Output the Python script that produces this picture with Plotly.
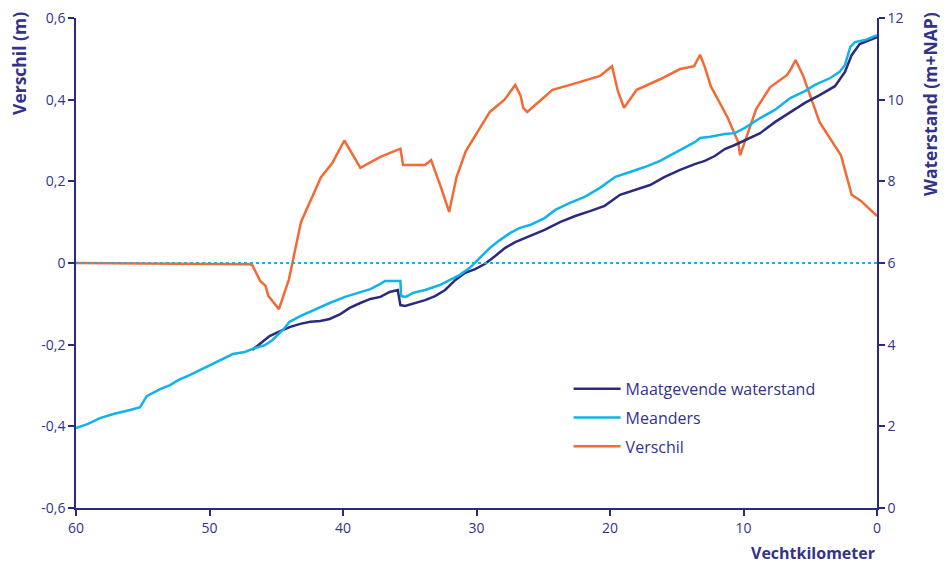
import plotly.graph_objects as go

# Verschil (m), left axis
km_verschil = [60, 47.0, 46.8, 46.2, 45.8, 45.6, 44.8, 44.05, 43.15, 41.65, 40.8, 39.9, 38.7, 37.2, 35.7, 35.5,
               33.85, 33.4, 32.65, 32.05, 31.5, 30.8, 29.0, 27.9, 27.1, 26.7, 26.5, 26.2, 25.5, 24.3, 22.6,
               20.75, 19.85, 19.4, 18.95, 18.0, 16.25, 14.75, 13.7, 13.25, 12.9, 12.45, 11.2, 10.4, 10.25,
               9.05, 8.0, 6.75, 6.45, 6.1, 5.55, 4.3, 2.7, 1.9, 1.2, 0]
verschil = [0, -0.003, -0.005, -0.044, -0.056, -0.08, -0.113, -0.04, 0.10, 0.21, 0.245, 0.30, 0.233, 0.26,
            0.28, 0.24, 0.24, 0.252, 0.184, 0.125, 0.21, 0.274, 0.37, 0.40, 0.436, 0.41, 0.38, 0.37, 0.39,
            0.424, 0.44, 0.458, 0.482, 0.42, 0.38, 0.424, 0.45, 0.475, 0.482, 0.51, 0.48, 0.433, 0.357,
            0.296, 0.264, 0.377, 0.431, 0.46, 0.475, 0.497, 0.46, 0.345, 0.264, 0.167, 0.152, 0.115]

# Meanders (m+NAP), right axis
km_meanders = [60, 59.1, 58.2, 57.2, 55.95, 55.2, 54.7, 53.7, 52.95, 52.35, 51.45, 50.7, 49.95, 49.2, 48.25,
               47.35, 46.6, 45.85, 45.3, 44.5, 44.0, 43.2, 42.1, 41.0, 39.85, 38.7, 37.95, 37.2, 36.85,
               35.95, 35.7, 35.65, 35.3, 34.75, 33.85, 32.75, 32.0, 31.25, 30.5, 29.75, 29.0, 28.25, 27.5,
               26.75, 26.0, 24.9, 24.1, 23.0, 21.9, 20.75, 19.6, 18.5, 17.4, 16.25, 15.15, 14.4, 13.65,
               13.25, 12.5, 11.4, 10.65, 9.9, 8.75, 7.65, 6.5, 5.4, 4.65, 3.5, 2.8, 2.4, 2.0, 1.65, 0.9, 0]
meanders = [1.96, 2.06, 2.2, 2.3, 2.4, 2.47, 2.74, 2.91, 3.01, 3.13, 3.26, 3.38, 3.48, 3.62, 3.77, 3.82,
            3.92, 3.99, 4.11, 4.36, 4.56, 4.70, 4.87, 5.02, 5.17, 5.29, 5.36, 5.49, 5.56, 5.56, 5.56, 5.19,
            5.17, 5.27, 5.34, 5.46, 5.58, 5.71, 5.88, 6.12, 6.37, 6.56, 6.73, 6.86, 6.93, 7.10, 7.30, 7.47,
            7.62, 7.84, 8.11, 8.23, 8.35, 8.50, 8.69, 8.82, 8.96, 9.06, 9.09, 9.16, 9.18, 9.31, 9.55, 9.75,
            10.04, 10.21, 10.36, 10.53, 10.68, 10.85, 11.29, 11.41, 11.46, 11.58]

# Maatgevende waterstand (m+NAP), right axis
km_mhw = [46.8, 46.4, 45.85, 45.5, 44.7, 44.0, 43.2, 42.45, 41.7, 41.0, 40.2, 39.5, 38.7, 37.95, 37.2, 36.5,
          35.9, 35.7, 35.35, 34.6, 33.85, 33.1, 32.35, 31.6, 30.85, 30.1, 29.35, 28.6, 27.85, 27.1, 26.0,
          24.9, 23.75, 22.6, 21.5, 20.4, 19.25, 18.1, 17.0, 15.9, 14.75, 13.65, 12.9, 12.15, 11.4, 10.65,
          9.9, 8.75, 7.65, 6.5, 5.4, 4.3, 3.15, 2.4, 1.9, 1.3, 0.55, 0]
mhw = [3.87, 3.97, 4.11, 4.21, 4.33, 4.43, 4.51, 4.56, 4.58, 4.63, 4.75, 4.90, 5.02, 5.12, 5.17, 5.29, 5.34,
       4.97, 4.95, 5.02, 5.09, 5.19, 5.34, 5.58, 5.76, 5.85, 5.98, 6.17, 6.37, 6.51, 6.66, 6.81, 7.00, 7.15,
       7.27, 7.40, 7.67, 7.79, 7.91, 8.11, 8.28, 8.42, 8.50, 8.62, 8.79, 8.89, 9.01, 9.18, 9.45, 9.70, 9.92,
       10.11, 10.33, 10.68, 11.09, 11.36, 11.46, 11.53]

left_ticks = [-0.6, -0.4, -0.2, 0, 0.2, 0.4, 0.6]
left_labels = ['-0,6', '-0,4', '-0,2', '0', '0,2', '0,4', '0,6']

NAVY = '#2b2a7c'
CYAN = '#12b2ea'
ORANGE = '#f26a35'
TXT = '#34338a'
FONT = 'Open Sans'

fig = go.Figure()
fig.add_trace(go.Scatter(x=km_mhw, y=mhw, name='Maatgevende waterstand', mode='lines', legendgroup='a',
                         line=dict(color=NAVY, width=2.5), yaxis='y2'))
fig.add_trace(go.Scatter(x=km_meanders, y=meanders, name='Meanders', mode='lines', legendgroup='b',
                         line=dict(color=CYAN, width=2.5), yaxis='y2'))
fig.add_trace(go.Scatter(x=km_verschil, y=verschil, name='Verschil', mode='lines', legendgroup='c',
                         line=dict(color=ORANGE, width=2.5), yaxis='y'))

fig.add_hline(y=0, line=dict(color=CYAN, width=2, dash='dot'), yref='y')

axis_common = dict(showgrid=False, zeroline=False, showline=True, linecolor=NAVY, linewidth=1.5,
                   ticks='outside', ticklen=6, tickcolor=NAVY, tickwidth=1.5, automargin=False,
                   tickfont=dict(family=FONT, size=14, color=TXT))

fig.update_layout(
    width=947, height=564,
    margin=dict(l=76, r=70, t=18, b=56, autoexpand=False),
    plot_bgcolor='white', paper_bgcolor='white',
    font=dict(family=FONT, color=TXT),
    xaxis=dict(range=[60, 0], tickvals=[60, 50, 40, 30, 20, 10, 0], **axis_common),
    yaxis=dict(range=[-0.6, 0.6], tickvals=left_ticks, ticktext=left_labels, **axis_common),
    yaxis2=dict(range=[0, 12], tickvals=[0, 2, 4, 6, 8, 10, 12], overlaying='y', side='right',
                **axis_common),
    legend=dict(x=0.615, y=0.278, xanchor='left', yanchor='top', bgcolor='rgba(0,0,0,0)',
                font=dict(family=FONT, size=16, color=TXT), tracegroupgap=5, itemwidth=47),
    showlegend=True,
)

fig.add_annotation(text='<b>Verschil (m)</b>', textangle=-90, xref='paper', yref='paper',
                   x=-0.072, y=1.016, xanchor='center', yanchor='top', showarrow=False,
                   font=dict(family=FONT, size=17.5, color=TXT))
fig.add_annotation(text='<b>Waterstand (m+NAP)</b>', textangle=-90, xref='paper', yref='paper',
                   x=1.066, y=1.016, xanchor='center', yanchor='top', showarrow=False,
                   font=dict(family=FONT, size=17.5, color=TXT))
fig.add_annotation(text='<b>Vechtkilometer</b>', xref='paper', yref='paper',
                   x=1.0, y=-0.066, xanchor='right', yanchor='top', showarrow=False,
                   font=dict(family=FONT, size=16, color=TXT))

fig.write_html("out.html", config={'displayModeBar': False},
               post_script="document.body.style.margin = '0';")
